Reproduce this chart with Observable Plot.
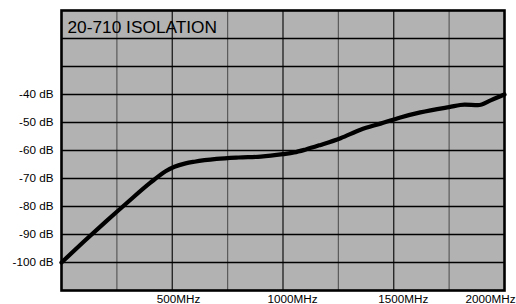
<!DOCTYPE html>
<html>
<head>
<meta charset="utf-8">
<script src="https://cdn.jsdelivr.net/npm/d3@7"></script>
<script src="https://cdn.jsdelivr.net/npm/@observablehq/plot@0.6"></script>
<style>
  html, body { margin: 0; padding: 0; background: #fff; }
  #chart svg { display: block; }
</style>
</head>
<body>
<div id="chart"></div>
<script>
const title = "20-710 ISOLATION";
const freqMHz = [0, 100, 200, 300, 400, 470, 510, 560, 600, 700, 800, 900, 1000, 1050, 1100, 1170, 1260, 1350, 1440, 1530, 1620, 1750, 1820, 1880, 1940, 2000];
const isolationDB = [-100, -92.6, -85.4, -78.4, -71.6, -67.4, -65.8, -64.6, -64.0, -63.0, -62.5, -62.2, -61.3, -60.7, -59.7, -58.0, -55.6, -52.6, -50.4, -48.2, -46.4, -44.5, -43.6, -43.8, -42.0, -40.0];
const yTickValues = [-40, -50, -60, -70, -80, -90, -100];
const xTickValues = [500, 1000, 1500];
const xLastTick = [2000];
const xGridValues = [250, 500, 750, 1000, 1250, 1500, 1750];
const yGridValues = [-20, -30, -40, -50, -60, -70, -80, -90, -100];

const data = freqMHz.map((f, i) => ({f, db: isolationDB[i]}));
const font = "'Liberation Sans', Arial, Helvetica, sans-serif";

const chart = Plot.plot({
  width: 516,
  height: 304,
  marginLeft: 61,
  marginRight: 12,
  marginTop: 10,
  marginBottom: 14,
  style: {background: "#fff", fontFamily: font, color: "#000"},
  x: {domain: [0, 2000], label: null},
  y: {domain: [-110, -10], label: null},
  marks: [
    Plot.frame({fill: "#b2b2b2"}),
    Plot.gridX(xGridValues, {stroke: d => d % 500 === 0 ? "#111" : "#5a5a5a", strokeOpacity: 1, strokeWidth: 1.2}),
    Plot.gridY(yGridValues, {stroke: "#000", strokeOpacity: 1, strokeWidth: 1.4}),
    Plot.line(data, {x: "f", y: "db", stroke: "#000", strokeWidth: 4.2, curve: "monotone-x", strokeLinejoin: "round"}),
    Plot.frame({stroke: "#000", strokeWidth: 2.6}),
    Plot.axisY(yTickValues, {tickSize: 0, tickPadding: 8, tickFormat: d => `${d} dB`, fontSize: 11.7, fill: "#000", label: null}),
    Plot.axisX(xTickValues, {tickSize: 0, tickPadding: 4, tickFormat: d => `${d}MHz`, textAnchor: "start", dx: -15.5, fontSize: 11.7, fill: "#000", label: null}),
    Plot.axisX(xLastTick, {tickSize: 0, tickPadding: 4, tickFormat: d => `${d}MHz`, textAnchor: "end", dx: 11, fontSize: 11.7, fill: "#000", label: null}),
    Plot.text([title], {frameAnchor: "top-left", dx: 6, dy: 10, fontSize: 17.3, fill: "#000", textAnchor: "start"})
  ]
});
document.getElementById("chart").appendChild(chart);
</script>
</body>
</html>
